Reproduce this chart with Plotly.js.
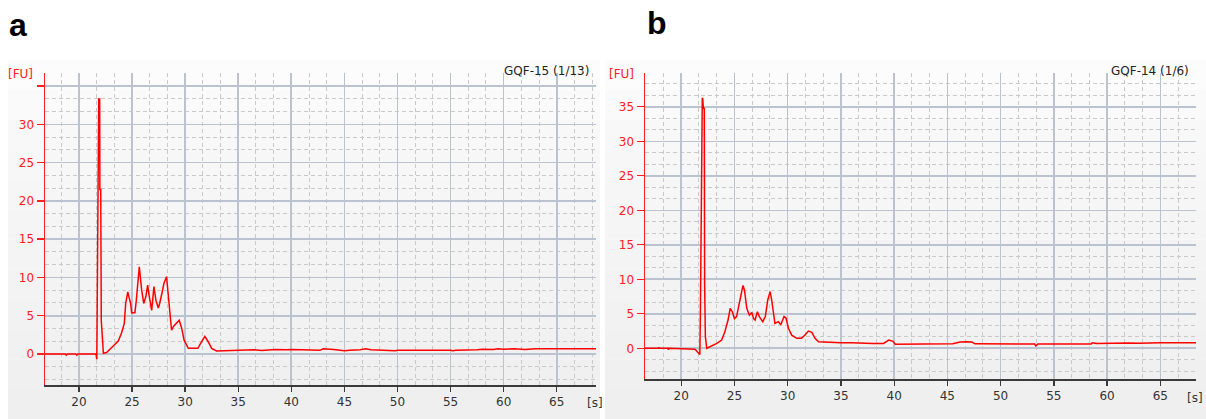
<!DOCTYPE html>
<html>
<head>
<meta charset="utf-8">
<script src="https://cdn.plot.ly/plotly-3.0.1.min.js"></script>
<style>html,body{margin:0;padding:0;background:#fff;}#chart{width:1206px;height:419px;}</style>
</head>
<body>
<div id="chart"></div>
<script>
// ---- Panel a (GQF-15) ----
const timeA = [16.8, 18.7, 18.8, 18.9, 19.7, 19.8, 19.9, 21.6, 21.68, 21.72, 21.86, 21.95, 21.97, 22.05, 22.1, 22.3, 22.6, 23.2, 23.7, 24.0, 24.27, 24.4, 24.6, 24.7, 24.87, 24.96, 25.27, 25.4, 25.68, 25.9, 26.1, 26.3, 26.47, 26.6, 26.85, 27.06, 27.25, 27.47, 27.6, 27.84, 28.0, 28.25, 28.35, 28.57, 28.72, 28.9, 29.2, 29.44, 29.67, 29.9, 30.3, 31.2, 31.55, 31.86, 32.17, 32.5, 32.96, 34.0, 34.5, 35.0, 35.5, 36.5, 37.2, 38.0, 38.5, 39.5, 40.0, 41.0, 42.0, 42.7, 43.0, 44.0, 45.0, 45.5, 46.5, 47.0, 47.5, 48.0, 49.8, 50.0, 52.0, 52.5, 52.7, 55.0, 55.2, 55.5, 57.5, 58.0, 59.0, 59.5, 60.0, 61.0, 62.0, 62.5, 63.0, 65.0, 68.7];
const fuA   = [0, 0, -0.15, 0, 0, -0.15, 0, 0, -0.7, 9.2, 33.3, 33.3, 21.5, 21.5, 4.4, 0.1, 0.2, 1.0, 1.7, 2.7, 4.0, 6.6, 8.1, 7.5, 6.6, 5.4, 5.4, 7.0, 11.4, 8.4, 6.6, 7.5, 9.0, 7.7, 5.7, 8.8, 7.0, 6.0, 6.6, 8.1, 9.2, 10.1, 8.4, 5.7, 3.1, 3.6, 4.0, 4.4, 3.4, 1.8, 0.74, 0.74, 1.6, 2.3, 1.6, 0.74, 0.4, 0.42, 0.42, 0.5, 0.45, 0.55, 0.45, 0.55, 0.6, 0.55, 0.6, 0.55, 0.48, 0.48, 0.68, 0.6, 0.42, 0.5, 0.55, 0.68, 0.55, 0.5, 0.42, 0.48, 0.5, 0.42, 0.5, 0.48, 0.42, 0.5, 0.55, 0.62, 0.6, 0.68, 0.62, 0.68, 0.6, 0.68, 0.69, 0.7, 0.7];

// ---- Panel b (GQF-14) ----
const timeB = [16.6, 17.85, 17.9, 17.95, 18.75, 18.8, 18.85, 21.3, 21.75, 21.8, 21.98, 22.02, 22.08, 22.17, 22.2, 22.27, 22.4, 22.7, 23.35, 23.8, 24.1, 24.4, 24.6, 24.8, 25.0, 25.2, 25.47, 25.8, 25.94, 26.16, 26.4, 26.63, 26.8, 26.94, 27.16, 27.34, 27.66, 27.9, 28.13, 28.35, 28.5, 28.66, 28.8, 29.13, 29.35, 29.66, 29.85, 30.07, 30.38, 30.85, 31.3, 31.6, 31.95, 32.27, 32.57, 32.9, 33.6, 35.0, 36.0, 36.5, 37.5, 38.0, 39.0, 39.5, 39.9, 40.1, 45.5, 46.2, 46.8, 47.3, 47.6, 53.2, 53.3, 53.5, 58.5, 58.6, 59.0, 59.5, 60.0, 61.0, 62.0, 63.0, 64.0, 65.0, 66.0, 68.35];
const fuB   = [0, 0, 0.15, 0, 0, -0.2, 0, -0.15, -0.9, 4.6, 36.2, 36.2, 34.8, 34.8, 9.2, 1.7, 0, 0.2, 0.7, 1.2, 2.4, 4.1, 5.8, 5.3, 4.3, 4.6, 6.75, 9.1, 8.45, 5.8, 4.8, 5.2, 4.3, 4.1, 5.3, 4.6, 3.86, 4.6, 7.0, 8.2, 7.0, 4.8, 3.6, 3.86, 3.4, 4.6, 4.35, 2.9, 1.9, 1.45, 1.45, 1.9, 2.5, 2.3, 1.45, 0.96, 0.87, 0.8, 0.8, 0.75, 0.65, 0.7, 0.7, 1.2, 1.0, 0.6, 0.65, 0.9, 0.95, 0.9, 0.65, 0.62, 0.35, 0.62, 0.62, 0.8, 0.7, 0.72, 0.8, 0.75, 0.78, 0.72, 0.8, 0.8, 0.8, 0.8];

const xTicks = [20, 25, 30, 35, 40, 45, 50, 55, 60, 65];
const yTicks = [0, 5, 10, 15, 20, 25, 30, 35];
const yTextA = ['0', '5', '10', '15', '20', '25', '30', ''];
const yTextB = ['0', '5', '10', '15', '20', '25', '30', '35'];
const panelLetters = ['a', 'b'];
const sampleNames = ['GQF-15 (1/13)', 'GQF-14 (1/6)'];

const W = 1206, H = 419;
const px = v => v / W;
const py = v => 1 - v / H;

const FONT = 'DejaVu Sans, Verdana, sans-serif';
const RED = '#ff2020';

function xAxis(domain, range, anchor) {
  return {
    domain: domain, range: range, anchor: anchor,
    tickmode: 'array', tickvals: xTicks, ticktext: xTicks.map(String),
    showline: true, linecolor: '#3a3a3a', linewidth: 1.5,
    ticks: 'outside', ticklen: 5, tickcolor: '#3a3a3a', tickwidth: 1.3,
    tickfont: {family: FONT, size: 12, color: '#333'},
    showgrid: true, gridcolor: '#bcc3d0', gridwidth: 1.6,
    zeroline: false, fixedrange: true,
    minor: {tick0: 0, dtick: 5/3, showgrid: true, gridcolor: '#c9c9c9', gridwidth: 1, griddash: '4px,3px', ticks: ''}
  };
}
function yAxis(domain, range, anchor, text) {
  return {
    domain: domain, range: range, anchor: anchor,
    tickmode: 'array', tickvals: yTicks, ticktext: text,
    showline: true, linecolor: RED, linewidth: 1.5,
    ticks: 'outside', ticklen: 7, tickcolor: RED, tickwidth: 1.3,
    tickfont: {family: FONT, size: 12, color: RED},
    showgrid: true, gridcolor: '#bcc3d0', gridwidth: 1.6,
    zeroline: false, fixedrange: true,
    minor: {tick0: 0, dtick: 5/3, showgrid: true, gridcolor: '#c9c9c9', gridwidth: 1, griddash: '4px,3px', ticks: ''}
  };
}

const traces = [
  {x: timeA, y: fuA, type: 'scatter', mode: 'lines', xaxis: 'x', yaxis: 'y',
   line: {color: '#ff0000', width: 1.5}, hoverinfo: 'skip', showlegend: false},
  {x: timeB, y: fuB, type: 'scatter', mode: 'lines', xaxis: 'x2', yaxis: 'y2',
   line: {color: '#ff0000', width: 1.5}, hoverinfo: 'skip', showlegend: false}
];

// panel background bands (light gradient)
const shapes = [];
const bandColors = ['#fcfcfc','#fafafa','#f8f8f8','#f7f7f7','#f6f6f6','#f5f5f5','#f4f4f4','#f3f3f3','#f2f2f2','#f1f1f1','#f0f0f0','#efefef'];
const panels = [[8, 600], [605, 1206]];
const top0 = 60, bot0 = 419;
panels.forEach(p => {
  bandColors.forEach((c, i) => {
    const y0 = top0 + (bot0 - top0) * i / bandColors.length;
    const y1 = top0 + (bot0 - top0) * (i + 1) / bandColors.length;
    shapes.push({type: 'rect', xref: 'paper', yref: 'paper', layer: 'below',
      x0: px(p[0]), x1: px(p[1]), y0: py(y1), y1: py(y0),
      fillcolor: c, line: {width: 0}});
  });
});

const annotations = [
  {text: '<b>' + panelLetters[0] + '</b>', x: px(17.5), y: py(25), xref: 'paper', yref: 'paper', showarrow: false,
   font: {family: 'Liberation Sans, Arial, sans-serif', size: 32, color: '#000'}, xanchor: 'center', yanchor: 'middle'},
  {text: '<b>' + panelLetters[1] + '</b>', x: px(657), y: py(23), xref: 'paper', yref: 'paper', showarrow: false,
   font: {family: 'Liberation Sans, Arial, sans-serif', size: 32, color: '#000'}, xanchor: 'center', yanchor: 'middle'},
  {text: '[FU]', x: px(20.5), y: py(74), xref: 'paper', yref: 'paper', showarrow: false,
   font: {family: FONT, size: 12, color: RED}, xanchor: 'center', yanchor: 'middle'},
  {text: '[FU]', x: px(621), y: py(74), xref: 'paper', yref: 'paper', showarrow: false,
   font: {family: FONT, size: 12, color: RED}, xanchor: 'center', yanchor: 'middle'},
  {text: '[s]', x: px(595), y: py(403), xref: 'paper', yref: 'paper', showarrow: false,
   font: {family: FONT, size: 12, color: '#333'}, xanchor: 'center', yanchor: 'middle'},
  {text: '[s]', x: px(1195), y: py(398), xref: 'paper', yref: 'paper', showarrow: false,
   font: {family: FONT, size: 12, color: '#333'}, xanchor: 'center', yanchor: 'middle'},
  {text: sampleNames[0], x: px(591), y: py(71), xref: 'paper', yref: 'paper', showarrow: false,
   font: {family: FONT, size: 12, color: '#222'}, xanchor: 'right', yanchor: 'middle'},
  {text: sampleNames[1], x: px(1191), y: py(71), xref: 'paper', yref: 'paper', showarrow: false,
   font: {family: FONT, size: 12, color: '#222'}, xanchor: 'right', yanchor: 'middle'}
];

const layout = {
  width: W, height: H,
  margin: {l: 0, r: 0, t: 0, b: 0, pad: 0},
  paper_bgcolor: '#ffffff', plot_bgcolor: 'rgba(0,0,0,0)',
  showlegend: false,
  xaxis: xAxis([px(45), px(596)], [16.8, 68.7], 'y'),
  yaxis: yAxis([py(385), py(73)], [-4.05, 36.7], 'x', yTextA),
  xaxis2: xAxis([px(645), px(1196)], [16.6, 68.35], 'y2'),
  yaxis2: yAxis([py(379), py(73)], [-4.45, 39.9], 'x2', yTextB),
  shapes: shapes,
  annotations: annotations
};

Plotly.newPlot('chart', traces, layout, {displayModeBar: false, staticPlot: true});
</script>
</body>
</html>
